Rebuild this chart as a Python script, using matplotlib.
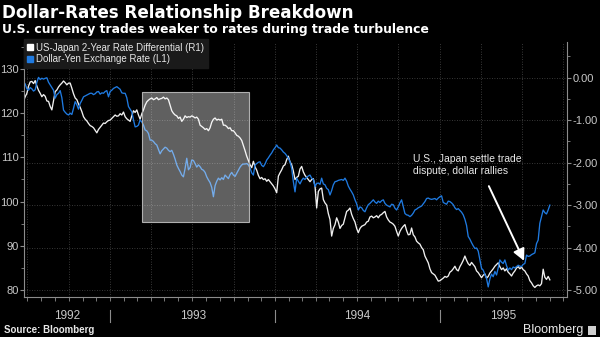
import matplotlib
matplotlib.use("Agg")
import matplotlib.pyplot as plt
import matplotlib.dates as mdates
import matplotlib.transforms as mtransforms
from matplotlib.patches import Rectangle
from matplotlib.lines import Line2D
from matplotlib.ticker import MultipleLocator, FormatStrFormatter, NullFormatter
import pandas as pd

plt.rcParams['font.family'] = ['Liberation Sans', 'DejaVu Sans']
plt.rcParams['axes.unicode_minus'] = False

# ---------------- data ----------------
series_start = "1992-06-23"
series_end = "1995-09-01"

# US-Japan 2-Year Rate Differential (R1), right axis
rate_diff = [
    -0.55, -0.45, -0.37, -0.20, -0.10, -0.09, -0.14, -0.07, -0.20, -0.30,
    -0.37, -0.45, -0.40, -0.44, -0.55, -0.56, -0.68, -0.76, -0.55, -0.33,
    -0.29, -0.22, -0.17, -0.13, -0.08, -0.12, -0.17, -0.13, -0.13, -0.25,
    -0.38, -0.48, -0.52, -0.62, -0.70, -0.80, -0.92, -0.98, -1.02, -1.08,
    -1.13, -1.15, -1.18, -1.24, -1.30, -1.22, -1.17, -1.12, -1.07, -1.08,
    -1.04, -1.01, -1.00, -0.96, -0.92, -0.88, -0.91, -0.90, -0.85, -0.88,
    -0.81, -0.92, -0.97, -1.00, -1.03, -0.90, -0.78, -0.82, -0.76, -0.88,
    -0.98, -0.85, -0.76, -0.65, -0.57, -0.53, -0.50, -0.48, -0.52, -0.50,
    -0.47, -0.52, -0.50, -0.49, -0.46, -0.50, -0.48, -0.52, -0.65, -0.78,
    -0.84, -0.88, -0.90, -0.96, -0.93, -1.03, -0.98, -0.90, -0.94, -0.92,
    -0.93, -0.90, -0.92, -0.95, -0.93, -0.98, -1.12, -1.15, -1.18, -1.22,
    -1.20, -1.25, -1.18, -1.05, -0.98, -0.95, -1.00, -0.98, -1.00, -0.98,
    -1.12, -1.12, -1.15, -1.20, -1.18, -1.25, -1.25, -1.30, -1.36, -1.38,
    -1.42, -1.48, -1.60, -1.72, -1.85, -1.95, -2.05, -2.12, -1.97, -2.10,
    -2.18, -2.30, -2.38, -2.35, -2.40, -2.38, -2.44, -2.40, -2.45, -2.50,
    -2.55, -2.62, -2.71, -2.32, -2.24, -2.17, -2.08, -2.05, -1.93, -1.85,
    -1.98, -2.05, -2.20, -2.40, -2.35, -2.32, -2.15, -2.09, -2.22, -2.30,
    -2.35, -2.40, -2.45, -2.40, -2.38, -2.55, -3.07, -2.68, -2.62, -2.60,
    -2.87, -2.95, -3.00, -3.20, -3.34, -3.73, -3.55, -3.46, -3.30, -3.40,
    -3.55, -3.48, -3.45, -3.30, -3.15, -3.12, -3.07, -3.22, -3.32, -3.40,
    -3.55, -3.65, -3.55, -3.50, -3.48, -3.46, -3.40, -3.38, -3.28, -3.26,
    -3.30, -3.28, -3.25, -3.30, -3.24, -3.22, -3.18, -3.15, -3.28, -3.35,
    -3.40, -3.42, -3.45, -3.50, -3.62, -3.73, -3.62, -3.55, -3.50, -3.46,
    -3.60, -3.70, -3.69, -3.54, -3.70, -3.75, -3.85, -3.89, -3.92, -4.00,
    -4.05, -4.20, -4.28, -4.36, -4.50, -4.59, -4.62, -4.65, -4.72, -4.79,
    -4.78, -4.75, -4.72, -4.68, -4.70, -4.67, -4.58, -4.55, -4.50, -4.44,
    -4.52, -4.55, -4.45, -4.38, -4.30, -4.20, -4.30, -4.38, -4.42, -4.35,
    -4.40, -4.45, -4.55, -4.59, -4.65, -4.71, -4.65, -4.62, -4.72, -4.68,
    -4.60, -4.55, -4.50, -4.44, -4.40, -4.36, -4.45, -4.52, -4.48, -4.55,
    -4.50, -4.58, -4.62, -4.67, -4.60, -4.55, -4.48, -4.45, -4.50, -4.46,
    -4.52, -4.55, -4.62, -4.67, -4.78, -4.83, -4.90, -4.94, -4.90, -4.88,
    -4.90, -4.85, -4.51, -4.70, -4.75, -4.68, -4.76,
]

# Dollar-Yen Exchange Rate (L1), left axis
usd_jpy = [
    127.1, 126.6, 125.5, 125.2, 125.8, 125.5, 125.0, 125.3, 127.0, 128.1,
    127.6, 127.9, 127.7, 127.9, 128.0, 127.0, 126.4, 125.8, 125.2, 123.4,
    124.2, 124.5, 125.1, 123.5, 120.7, 120.2, 119.8, 119.6, 120.0, 119.7,
    121.1, 122.6, 121.9, 120.9, 122.2, 122.9, 123.7, 123.9, 124.1, 124.3,
    124.5, 124.5, 124.2, 124.4, 124.8, 124.9, 124.3, 124.6, 124.5, 124.9,
    125.1, 123.7, 124.9, 125.2, 125.6, 125.8, 126.0, 125.7, 125.4, 124.6,
    124.5, 124.5, 123.5, 121.5, 120.9, 120.3, 118.5, 116.9, 117.0, 117.3,
    118.5, 118.0, 117.3, 116.2, 116.0, 115.4, 113.9, 113.9, 113.6, 113.1,
    112.8, 111.8, 110.8, 111.5, 111.9, 112.3, 112.1, 111.6, 111.3, 111.6,
    110.7, 109.6, 108.3, 107.5, 106.8, 106.0, 105.6, 107.5, 109.8, 107.2,
    107.7, 109.4, 109.3, 108.6, 107.8, 108.3, 107.9, 107.3, 107.1, 106.6,
    105.6, 104.9, 104.3, 103.2, 101.1, 103.6, 104.6, 105.3, 104.9, 105.4,
    105.0, 106.0, 105.6, 105.2, 106.1, 106.6, 106.0, 105.7, 106.4, 107.1,
    107.8, 108.3, 108.5, 108.5, 108.6, 108.3, 107.6, 106.5, 106.0, 108.3,
    108.6, 108.9, 109.0, 108.2, 107.9, 108.5, 109.4, 109.9, 110.5, 111.0,
    111.7, 112.2, 112.8, 112.2, 112.1, 111.7, 111.2, 110.9, 110.4, 109.8,
    109.0, 107.5, 104.5, 102.2, 105.3, 104.6, 104.0, 104.8, 105.3, 105.0,
    105.5, 105.8, 106.0, 105.3, 105.0, 103.4, 104.1, 104.2, 103.9, 105.3,
    104.0, 103.8, 103.0, 102.7, 101.5, 102.5, 103.8, 104.5, 104.6, 104.8,
    104.9, 105.0, 104.8, 105.3, 104.6, 103.5, 102.8, 102.2, 101.5, 100.4,
    99.5, 98.1, 98.8, 98.6, 98.0, 97.7, 98.6, 99.3, 99.6, 100.0,
    100.4, 99.9, 99.6, 100.1, 99.8, 100.2, 100.4, 99.6, 99.2, 99.0,
    98.8, 99.4, 99.3, 98.5, 98.1, 98.8, 99.7, 100.4, 98.8, 97.3,
    97.0, 96.9, 96.6, 96.9, 97.4, 98.1, 98.3, 98.6, 98.8, 99.0,
    99.5, 100.0, 100.7, 100.8, 100.6, 100.5, 100.6, 100.7, 100.4, 100.8,
    101.1, 101.3, 99.8, 99.6, 99.4, 100.1, 100.0, 99.7, 99.3, 98.6,
    98.2, 98.4, 98.0, 97.6, 97.0, 96.0, 94.6, 92.1, 91.5, 90.7,
    90.0, 89.4, 89.5, 88.8, 86.8, 84.9, 84.5, 83.5, 82.6, 80.7,
    82.5, 83.6, 83.0, 84.2, 83.4, 85.0, 86.8, 86.3, 86.0, 86.8,
    85.5, 84.5, 85.0, 84.6, 85.2, 85.0, 85.3, 85.6, 85.4, 85.3,
    85.8, 86.0, 87.9, 87.6, 87.7, 88.0, 88.2, 88.4, 90.5, 91.3,
    95.1, 96.6, 98.1, 97.5, 97.2, 98.1, 99.2,
]

labels = ["US-Japan 2-Year Rate Differential (R1)", "Dollar-Yen Exchange Rate (L1)"]
title = "Dollar-Rates Relationship Breakdown"
subtitle = "U.S. currency trades weaker to rates during trade turbulence"
note = "U.S., Japan settle trade\ndispute, dollar rallies"
source = "Source: Bloomberg"

dates = pd.date_range(series_start, series_end, periods=len(rate_diff))

# ---------------- style ----------------
BG = "black"
WHITE = "#f0f0f0"
BLUE = "#1f7ae0"
TICKC = "#c8c8c8"
SPINEC = "#8c8c8c"
GRIDC = "#4a4a4a"

fig = plt.figure(figsize=(6.0, 3.37), dpi=100, facecolor=BG)
pos = [24 / 600, 1 - 297 / 337, (567 - 24) / 600, (297 - 42) / 337]
ax_r = fig.add_axes(pos)          # right axis (rate differential) - bottom layer
ax_l = fig.add_axes(pos)          # left axis (USD/JPY) - top layer
ax_r.set_facecolor(BG)
ax_l.patch.set_visible(False)

xmin = pd.Timestamp("1992-06-24")
xmax = pd.Timestamp("1995-10-09")
for a in (ax_r, ax_l):
    a.set_xlim(xmin, xmax)

ax_r.set_ylim(-5.164, 0.838)
ax_l.set_ylim(78.42, 136.1)

# lines
ax_r.plot(dates, rate_diff, color=WHITE, lw=0.95, solid_joinstyle="round")
ax_l.plot(dates, usd_jpy, color=BLUE, lw=0.95, solid_joinstyle="round")

# right axis ticks
ax_r.yaxis.tick_right()
ax_r.yaxis.set_major_locator(MultipleLocator(1.0))
ax_r.yaxis.set_minor_locator(MultipleLocator(0.5))
ax_r.yaxis.set_major_formatter(FormatStrFormatter("%.2f"))
ax_r.tick_params(axis="y", which="major", right=True, left=False, length=3, width=0.8,
                 color=SPINEC, labelcolor=TICKC, labelsize=8, pad=1)
ax_r.tick_params(axis="y", which="minor", right=True, left=False, length=2, width=0.6,
                 color=SPINEC)

# left axis ticks
ax_l.yaxis.tick_left()
ax_l.yaxis.set_major_locator(MultipleLocator(10))
ax_l.yaxis.set_minor_locator(MultipleLocator(5))
ax_l.tick_params(axis="y", which="major", length=3, width=0.8, color=SPINEC,
                 labelcolor=TICKC, labelsize=8, pad=1)
ax_l.tick_params(axis="y", which="minor", length=2, width=0.6, color=SPINEC)
ax_l.xaxis.set_visible(False)

# x axis on the bottom (right-axis layer)
ax_r.xaxis.set_major_locator(mdates.MonthLocator(bymonth=[1, 4, 7, 10]))
ax_r.xaxis.set_minor_locator(mdates.MonthLocator())
ax_r.xaxis.set_major_formatter(NullFormatter())
ax_r.tick_params(axis="x", which="both", length=3, width=0.6, color=SPINEC)

# grid
ax_r.grid(True, which="major", axis="both", color=GRIDC, lw=0.6, ls=(0, (1, 2)))

# spines
for a in (ax_r, ax_l):
    a.spines["top"].set_visible(False)
ax_l.spines["right"].set_visible(False)
ax_l.spines["bottom"].set_visible(False)
ax_r.spines["left"].set_visible(False)
ax_l.spines["left"].set_color(SPINEC)
ax_r.spines["right"].set_color(SPINEC)
ax_r.spines["bottom"].set_color(SPINEC)
ax_l.spines["left"].set_linewidth(0.8)
ax_r.spines["right"].set_linewidth(0.8)
ax_r.spines["bottom"].set_linewidth(0.8)

# year separators and labels
trans = mtransforms.blended_transform_factory(ax_r.transData, ax_r.transAxes)
years = range(xmin.year, xmax.year + 1)
for yr in years:
    y0 = max(pd.Timestamp(f"{yr}-01-01"), xmin)
    y1 = min(pd.Timestamp(f"{yr + 1}-01-01"), xmax)
    mid = y0 + (y1 - y0) / 2
    ax_r.text(mid, -0.074, str(yr), transform=trans, ha="center", va="center",
              color=TICKC, fontsize=8.5)
    if pd.Timestamp(f"{yr}-01-01") > xmin:
        ax_r.add_line(Line2D([pd.Timestamp(f"{yr}-01-01")] * 2, [-0.05, -0.098],
                             transform=trans, color=SPINEC, lw=0.8, clip_on=False))

# highlight box
bx0 = mdates.date2num(pd.Timestamp("1993-03-12"))
bx1 = mdates.date2num(pd.Timestamp("1993-11-03"))
ax_l.add_patch(Rectangle((bx0, 95.3), bx1 - bx0, 124.86 - 95.3, facecolor="white",
                         alpha=0.38, edgecolor="none", zorder=5))
ax_l.add_patch(Rectangle((bx0, 95.3), bx1 - bx0, 124.86 - 95.3, facecolor="none",
                         edgecolor="#b0b0b0", lw=0.8, zorder=6))

# annotation
ax_r.text(pd.Timestamp("1994-11-01"), -1.8, note, color="#e8e8e8", fontsize=7.5,
          ha="left", va="top", linespacing=1.25, zorder=7)
ax_l.annotate("", xy=(pd.Timestamp("1995-07-06"), 86.6),
              xytext=(pd.Timestamp("1995-04-19"), 103.5),
              arrowprops=dict(arrowstyle="-|>,head_length=0.7,head_width=0.35",
                              color="white", lw=1.4, shrinkA=0, shrinkB=0), zorder=8)

# legend
handles = [Line2D([], [], ls="none", marker="s", ms=4.5, mfc="white", mec="white"),
           Line2D([], [], ls="none", marker="s", ms=4.5, mfc=BLUE, mec=BLUE)]
leg = ax_l.legend(handles, labels, loc="upper left", bbox_to_anchor=(0.0, 1.01),
                  frameon=True, fancybox=False, facecolor="#1a1a1a", edgecolor="#1a1a1a",
                  framealpha=1, fontsize=7, labelcolor="#e6e6e6", handlelength=0.6,
                  handletextpad=0.3, borderpad=0.35, labelspacing=0.15,
                  borderaxespad=0.0)
leg.set_zorder(10)

# titles
fig.text(0.003, 1 - 4 / 337, title, color="white", fontsize=12.1, fontweight="bold",
         ha="left", va="top", family=["DejaVu Sans"])
fig.text(0.003, 1 - 23 / 337, subtitle, color="white", fontsize=8.95, fontweight="bold",
         ha="left", va="top", family=["DejaVu Sans"])
fig.text(0.007, 1 - 330 / 337, source, color="#e8e8e8", fontsize=7, fontweight="bold",
         ha="left", va="center")
fig.text(583 / 600, 1 - 330 / 337, "Bloomberg", color="#e8e8e8", fontsize=9,
         ha="right", va="center")
fig.patches.append(Rectangle((588 / 600, 1 - 335 / 337), 8 / 600, 9 / 337,
                             transform=fig.transFigure, facecolor="#d0d0d0",
                             edgecolor="none"))

fig.savefig("out.png", dpi=100, facecolor=BG)
